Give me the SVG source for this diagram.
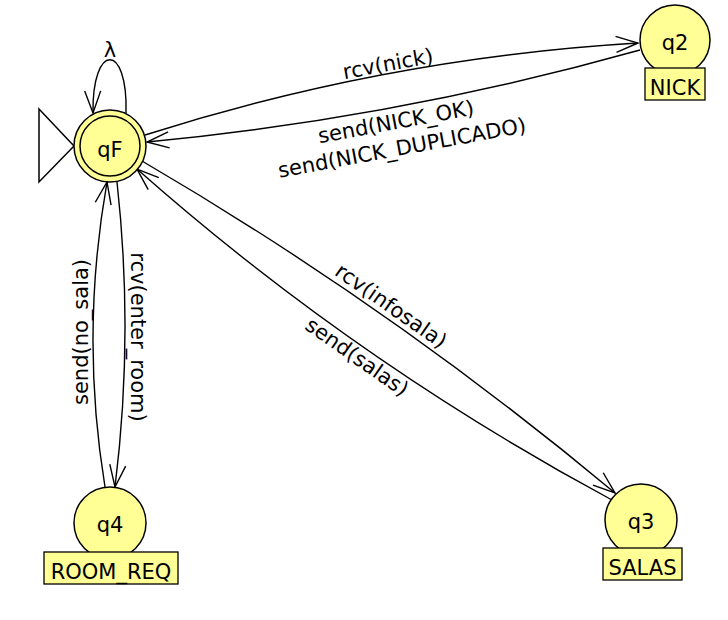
<svg xmlns="http://www.w3.org/2000/svg" width="728" height="620" viewBox="0 0 728 620">
<style>
text{font-family:"DejaVu Sans","Liberation Sans",sans-serif;font-size:21px;fill:#000}
.st{fill:#ffff96;stroke:#000;stroke-width:1.5}
.lb{fill:#ffff96;stroke:#000;stroke-width:1.3}
.e{fill:none;stroke:#000;stroke-width:1.4;marker-end:url(#arr)}
.c{text-anchor:middle}
</style>
<defs>
<marker id="arr" markerWidth="30" markerHeight="30" refX="24" refY="10" orient="auto" markerUnits="userSpaceOnUse" overflow="visible">
<path d="M2,2 L24,10 L2,18" fill="none" stroke="#000" stroke-width="1.4"/>
</marker>
</defs>
<rect width="728" height="620" fill="#fff"/>
<g id="connectors">
<path class="e" d="M126,113 C128,42 92,42 93,113"/>
<text class="c" x="110" y="57">λ</text>
<path class="e" d="M145,135 Q386,58 638,43"/>
<text class="c" transform="translate(388,64) rotate(-10.5)" dominant-baseline="central">rcv(nick)</text>
<path class="e" d="M640,50 Q398,118 147,142"/>
<text class="c" transform="translate(396,122) rotate(-10.5)" dominant-baseline="central">send(NICK_OK)</text>
<text class="c" transform="translate(402,148) rotate(-10.5)" dominant-baseline="central">send(NICK_DUPLICADO)</text>
<path class="e" d="M142,161 Q392,307 615,493"/>
<text class="c" transform="translate(391,306) rotate(35)" dominant-baseline="central">rcv(infosala)</text>
<path class="e" d="M612,500 Q354,361 137,169"/>
<text class="c" transform="translate(357,357) rotate(35)" dominant-baseline="central">send(salas)</text>
<path class="e" d="M117,182 Q134,335 115,487"/>
<text class="c" transform="translate(138,337) rotate(90)" dominant-baseline="central">rcv(enter_room)</text>
<path class="e" d="M105,487 Q80,335 107,182"/>
<text class="c" transform="translate(81,332) rotate(-90)" dominant-baseline="central">send(no_sala)</text>
</g>
<g id="qF">
<polygon points="39,109 74,146 39,182" fill="none" stroke="#000" stroke-width="1.5"/>
<circle class="st" cx="110" cy="146" r="36"/>
<circle fill="none" stroke="#000" stroke-width="1.5" cx="110" cy="146" r="30"/>
<text class="c" x="110" y="157">qF</text>
</g>
<g id="q2">
<circle class="st" cx="675" cy="40" r="35"/>
<rect class="lb" x="645" y="68" width="60" height="32"/>
<text class="c" x="675" y="50">q2</text>
<text class="c" x="675" y="95">NICK</text>
</g>
<g id="q3">
<circle class="st" cx="641" cy="520" r="36"/>
<rect class="lb" x="603" y="548" width="79" height="32"/>
<text class="c" x="641" y="529">q3</text>
<text class="c" x="642.5" y="575">SALAS</text>
</g>
<g id="q4">
<circle class="st" cx="110" cy="523" r="36"/>
<rect class="lb" x="44" y="552" width="134" height="32"/>
<text class="c" x="110" y="532">q4</text>
<text class="c" x="111" y="579">ROOM_REQ</text>
</g>
</svg>
